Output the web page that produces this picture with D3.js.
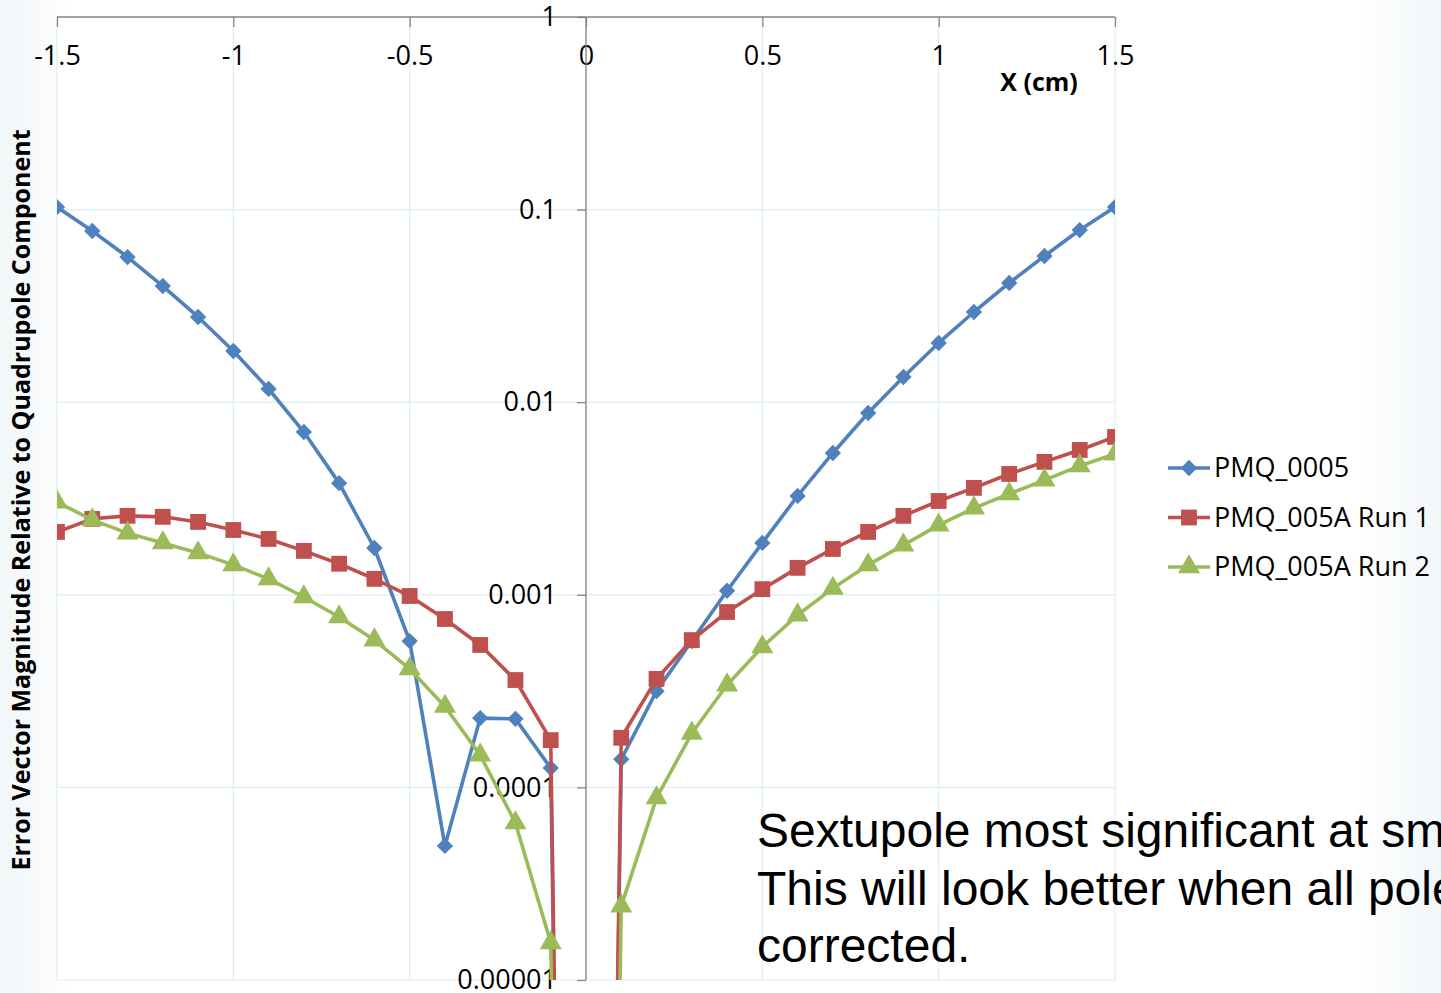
<!DOCTYPE html>
<html lang="en">
<head>
<meta charset="utf-8">
<title>Error Vector Magnitude</title>
<script src="https://d3js.org/d3.v7.min.js"></script>
<style>
  body { margin: 0; background: #fff; }
  svg { display: block; }
</style>
</head>
<body>
<script>
// x positions (cm); the centre point is essentially zero so its lines drop off the log axis
const xValues = [-1.5, -1.4, -1.3, -1.2, -1.1, -1.0, -0.9, -0.8, -0.7, -0.6, -0.5, -0.4, -0.3, -0.2, -0.1,
                 0,
                 0.1, 0.2, 0.3, 0.4, 0.5, 0.6, 0.7, 0.8, 0.9, 1.0, 1.1, 1.2, 1.3, 1.4, 1.5];

const pmq0005 = [0.1031, 0.0774, 0.0567, 0.0401, 0.0277, 0.01844, 0.01172, 0.0070, 0.0038, 0.00175,
                 0.000575, 0.0000497, 0.000229, 0.000227, 0.000126,
                 1e-16,
                 0.000140, 0.000316, 0.000575, 0.00105, 0.00186, 0.00326, 0.00545, 0.00879, 0.01352,
                 0.0203, 0.0294, 0.0416, 0.0574, 0.0783, 0.1031];

const pmq005aRun1 = [0.00212, 0.00248, 0.00257, 0.00254, 0.00239, 0.00217, 0.00195, 0.00169, 0.00145, 0.00121,
                     0.000986, 0.000749, 0.000549, 0.000361, 0.000176,
                     1e-16,
                     0.000181, 0.000366, 0.000582, 0.000814, 0.00107, 0.00138, 0.00173, 0.00212, 0.00257,
                     0.00307, 0.00359, 0.00424, 0.00490, 0.00565, 0.00660];

const pmq005aRun2 = [0.00303, 0.00245, 0.00209, 0.00186, 0.00165, 0.00143, 0.00121, 0.000974, 0.000767, 0.000582,
                     0.000412, 0.000263, 0.000147, 0.0000654, 0.0000156,
                     1e-16,
                     0.0000242, 0.0000881, 0.000191, 0.00034, 0.000536, 0.000785, 0.00108, 0.00143, 0.00181,
                     0.0023, 0.00282, 0.00334, 0.00394, 0.00467, 0.00538];

const seriesNames = ["PMQ_0005", "PMQ_005A Run 1", "PMQ_005A Run 2"];
const xTicks = [-1.5, -1, -0.5, 0, 0.5, 1, 1.5];
const yTicks = [1, 0.1, 0.01, 0.001, 0.0001, 0.00001];
const yTickLabels = ["1", "0.1", "0.01", "0.001", "0.0001", "0.00001"];
const noteLines = ["Sextupole most significant at small radius.",
                   "This will look better when all poles are",
                   "corrected."];

const width = 1441, height = 993;
const plotLeft = 57, plotRight = 1115, plotTop = 17, plotBottom = 980;
const colors = ["#4f81bd", "#c0504d", "#9bbb59"];
const shapes = [d3.symbolDiamond2, d3.symbolSquare, d3.symbolTriangle];
const fontMain = "'Open Sans', 'Noto Sans', sans-serif";

const svg = d3.select("body").append("svg")
  .attr("width", width)
  .attr("height", height);

// slide background with faint blue edges
const defs = svg.append("defs");
const bg = defs.append("linearGradient").attr("id", "bg").attr("x1", 0).attr("x2", 1);
bg.append("stop").attr("offset", "0").attr("stop-color", "#f1f6f9");
bg.append("stop").attr("offset", "0.05").attr("stop-color", "#ffffff");
bg.append("stop").attr("offset", "0.94").attr("stop-color", "#ffffff");
bg.append("stop").attr("offset", "1").attr("stop-color", "#f1f6f9");
svg.append("rect").attr("width", width).attr("height", height).attr("fill", "url(#bg)");

defs.append("clipPath").attr("id", "plotclip")
  .append("rect").attr("x", plotLeft).attr("y", plotTop)
  .attr("width", plotRight - plotLeft).attr("height", plotBottom - plotTop);

svg.append("rect")
  .attr("x", plotLeft).attr("y", plotTop)
  .attr("width", plotRight - plotLeft).attr("height", plotBottom - plotTop)
  .attr("fill", "#fff");

const x = d3.scaleLinear().domain([-1.5, 1.5]).range([plotLeft, plotRight]);
const y = d3.scaleLog().domain([0.00001, 1]).range([plotBottom, plotTop]);

// gridlines
svg.append("g").selectAll("line").data(xTicks).join("line")
  .attr("x1", d => x(d)).attr("x2", d => x(d))
  .attr("y1", plotTop).attr("y2", plotBottom)
  .attr("stroke", "#dbeef4").attr("stroke-width", 1.2);
svg.append("g").selectAll("line").data(yTicks).join("line")
  .attr("x1", plotLeft).attr("x2", plotRight)
  .attr("y1", d => y(d)).attr("y2", d => y(d))
  .attr("stroke", "#dbeef4").attr("stroke-width", 1.2);

// x axis along the top, labels hang below the line
const xAxis = svg.append("g")
  .attr("transform", `translate(0,${plotTop})`)
  .call(d3.axisBottom(x).tickValues(xTicks).tickSize(10).tickPadding(19)
    .tickFormat(d => d3.format("")(d).replace("\u2212", "-")));
xAxis.select(".domain").attr("stroke", "#868686").attr("stroke-width", 1.3)
  .attr("d", `M${plotLeft},0H${plotRight}`);
xAxis.selectAll(".tick line").attr("stroke", "#868686").attr("stroke-width", 1.3);
xAxis.selectAll(".tick text").attr("font-family", fontMain).attr("font-size", 27).attr("fill", "#000");

// y axis at x = 0
const yAxis = svg.append("g")
  .attr("transform", `translate(${x(0)},0)`)
  .call(d3.axisLeft(y).tickValues(yTicks).tickSize(9).tickPadding(20)
    .tickFormat((d, i) => yTickLabels[i]));
yAxis.select(".domain").attr("stroke", "#868686").attr("stroke-width", 1.3)
  .attr("d", `M0,${plotTop}V${plotBottom}`);
yAxis.selectAll(".tick line").attr("stroke", "#868686").attr("stroke-width", 1.3);
yAxis.selectAll(".tick text").attr("font-family", fontMain).attr("font-size", 27).attr("fill", "#000");

// series
const allSeries = [pmq0005, pmq005aRun1, pmq005aRun2];
const line = d3.line().x(d => x(d[0])).y(d => y(d[1]));
const plot = svg.append("g").attr("clip-path", "url(#plotclip)");
const markerSize = [170, 250, 210];

allSeries.forEach((vals, i) => {
  const pts = xValues.map((xv, j) => [xv, vals[j]]);
  plot.append("path")
    .attr("d", line(pts))
    .attr("fill", "none")
    .attr("stroke", colors[i])
    .attr("stroke-width", 3.6)
    .attr("stroke-linejoin", "round");
  plot.append("g").selectAll("path")
    .data(pts.filter(p => p[0] !== 0))
    .join("path")
    .attr("transform", p => `translate(${x(p[0])},${y(p[1])})`)
    .attr("d", d3.symbol().type(shapes[i]).size(markerSize[i]))
    .attr("fill", colors[i]);
});

// axis titles
svg.append("text")
  .attr("transform", "translate(30,500) rotate(-90)")
  .attr("text-anchor", "middle")
  .attr("font-family", fontMain).attr("font-weight", "bold").attr("font-size", 25)
  .text("Error Vector Magnitude Relative to Quadrupole Component");

svg.append("text")
  .attr("x", 1039).attr("y", 91)
  .attr("text-anchor", "middle")
  .attr("font-family", fontMain).attr("font-weight", "bold").attr("font-size", 25)
  .text("X (cm)");

// legend
const legend = svg.append("g");
seriesNames.forEach((name, i) => {
  const ly = 468 + i * 49.5;
  legend.append("line")
    .attr("x1", 1168).attr("x2", 1210).attr("y1", ly).attr("y2", ly)
    .attr("stroke", colors[i]).attr("stroke-width", 3.6);
  legend.append("path")
    .attr("transform", `translate(1189,${ly})`)
    .attr("d", d3.symbol().type(shapes[i]).size(markerSize[i]))
    .attr("fill", colors[i]);
  legend.append("text")
    .attr("x", 1214).attr("y", ly)
    .attr("dy", "0.35em")
    .attr("font-family", fontMain).attr("font-size", 27)
    .text(name);
});

// slide note, runs past the right edge as on the slide
const note = svg.append("text")
  .attr("font-family", "'Liberation Sans', Arial, sans-serif")
  .attr("font-size", 48)
  .attr("fill", "#000");
noteLines.forEach((t, i) => {
  note.append("tspan").attr("x", 757).attr("y", 847 + i * 57.5).text(t);
});
</script>
</body>
</html>
